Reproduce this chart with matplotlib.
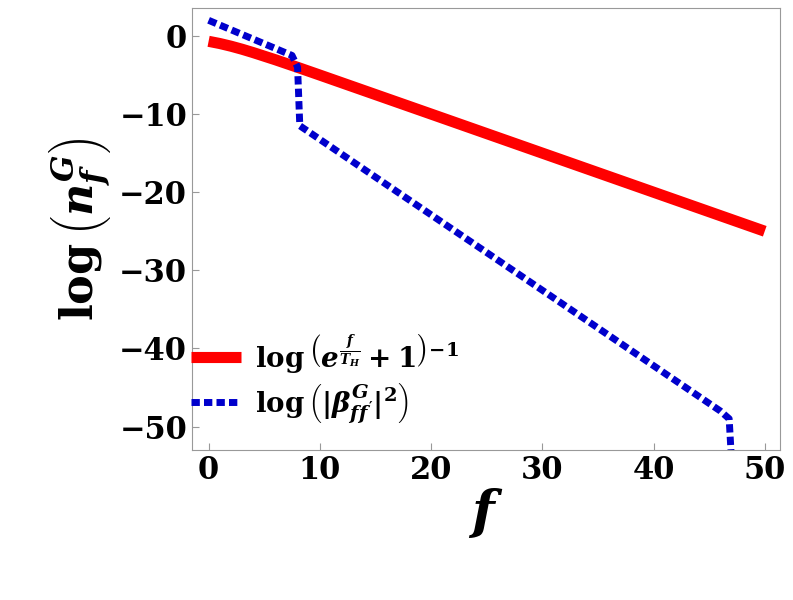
import matplotlib
matplotlib.use("Agg")
import matplotlib.pyplot as plt

plt.rcParams['mathtext.fontset'] = 'custom'
plt.rcParams['mathtext.rm'] = 'DejaVu Serif:bold'
plt.rcParams['mathtext.it'] = 'DejaVu Serif:bold:italic'
plt.rcParams['mathtext.bf'] = 'DejaVu Serif:bold'
plt.rcParams['font.family'] = 'DejaVu Serif'
plt.rcParams['font.weight'] = 'bold'

f_red = [0, 1, 2, 3, 4, 6, 8, 10, 20, 30, 40, 50]
y_red = [-0.69, -0.97, -1.31, -1.70, -2.13, -3.05, -4.02, -5.01, -10.0, -15.0, -20.0, -25.0]
f_blue = [0, 7.5, 8.0, 8.2, 46.0, 46.8, 47.0]
y_blue = [2.0, -2.5, -4.0, -11.5, -48.0, -49.0, -54.0]
xticks = [0, 10, 20, 30, 40, 50]
yticks = [0, -10, -20, -30, -40, -50]

fig = plt.figure(figsize=(7.93, 6), dpi=100)
ax = fig.add_axes([0.242, 0.25, 0.742, 0.737])
ax.plot(f_red, y_red, color='#ff0000', lw=8, solid_capstyle='butt',
        label=r'$\log\left(e^{\frac{f}{T_H}}+1\right)^{-1}$')
ax.plot(f_blue, y_blue, color='#0000cc', lw=5, ls=(0, (1.2, 0.6)),
        label=r'$\log\left(|\beta^{G}_{ff^{\prime}}|^2\right)$')
ax.set_xlim(-1.5, 51.4)
ax.set_ylim(-53, 3.6)
ax.set_xticks(xticks)
ax.set_yticks(yticks)
ax.set_yticklabels(['0', '−10', '−20', '−30', '−40', '−50'])
ax.tick_params(labelsize=22, direction='in', length=5, color='#999999')
for lab in ax.get_xticklabels() + ax.get_yticklabels():
    lab.set_fontweight('bold')
for s in ax.spines.values():
    s.set_color('#999999')
ax.set_xlabel(r'$f$', fontsize=38, labelpad=0)
ax.set_ylabel(r'$\log\left(n^G_f\right)$', fontsize=32, labelpad=4)
ax.legend(loc='lower left', bbox_to_anchor=(-0.02, 0.03), fontsize=20, frameon=False,
          handlelength=1.8, handletextpad=0.5, borderaxespad=0, labelspacing=0.2)
fig.savefig('out.png')
